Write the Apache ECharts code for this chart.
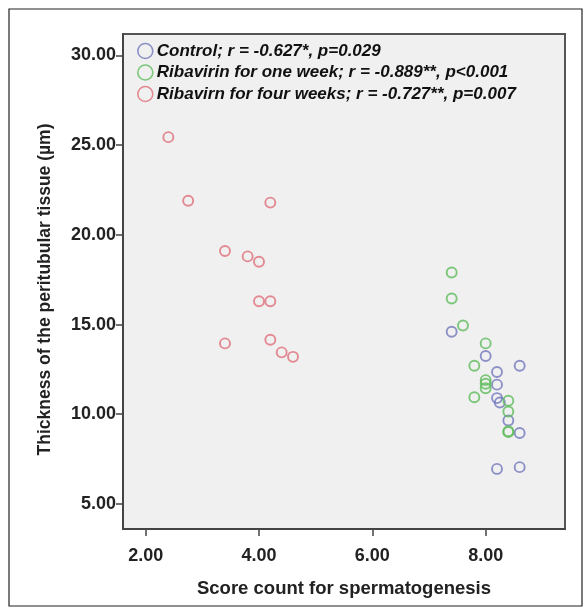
<!DOCTYPE html>
<html>
<head>
<meta charset="utf-8">
<script src="https://cdn.jsdelivr.net/npm/echarts@6/dist/echarts.min.js"></script>
<style>
  html, body { margin: 0; padding: 0; background: #fff; }
  #main { width: 584px; height: 616px; }
</style>
</head>
<body>
<div id="main"></div>
<script>
// group names as shown in the legend
var groupNames = [
  'Control; r = -0.627*, p=0.029',
  'Ribavirin for one week; r = -0.889**, p<0.001',
  'Ribavirn for four weeks; r = -0.727**, p=0.007'
];
var groupColors = ['#7378bd', '#5fbb5d', '#df6f7a'];

// [score, thickness]
var controlData = [
  [7.4, 14.6], [8.0, 13.25], [8.6, 12.7], [8.2, 12.35], [8.2, 11.65],
  [8.2, 10.9], [8.25, 10.65], [8.4, 9.65], [8.6, 8.95], [8.2, 6.95], [8.6, 7.05]
];
var oneWeekData = [
  [7.4, 17.9], [7.4, 16.45], [7.6, 14.95], [8.0, 13.95], [7.8, 12.7],
  [8.0, 11.9], [8.0, 11.7], [8.0, 11.45], [7.8, 10.95], [8.4, 10.75],
  [8.4, 10.15], [8.4, 9.05], [8.4, 9.0]
];
var fourWeekData = [
  [2.4, 25.45], [2.75, 21.9], [4.2, 21.8], [3.4, 19.1], [3.8, 18.8],
  [4.0, 18.5], [4.0, 16.3], [4.2, 16.3], [3.4, 13.95], [4.2, 14.15],
  [4.4, 13.45], [4.6, 13.2]
];

var xTicks = [2, 4, 6, 8];
var yTicks = [5, 10, 15, 20, 25, 30];

var chart = echarts.init(document.getElementById('main'));

function makeSeries(i, data) {
  return {
    name: groupNames[i],
    type: 'scatter',
    data: data,
    symbol: 'circle',
    symbolSize: 10,
    itemStyle: {
      color: 'rgba(0,0,0,0)',
      borderColor: groupColors[i],
      borderWidth: 1.9
    },
    emphasis: { disabled: true }
  };
}

var option = {
  animation: false,
  backgroundColor: '#fff',
  textStyle: { fontFamily: 'Liberation Sans, Arial, sans-serif' },
  grid: {
    left: 123, top: 34, right: 19, bottom: 87,
    show: true,
    backgroundColor: '#f0f0f0',
    borderColor: '#555',
    borderWidth: 2
  },
  legend: {
    orient: 'vertical',
    left: 132,
    top: 37.5,
    itemGap: 4.5,
    itemWidth: 15,
    itemHeight: 15,
    icon: 'circle',
    selectedMode: false,
    textStyle: {
      fontSize: 17,
      fontWeight: 'bold',
      fontStyle: 'italic',
      color: '#111',
      lineHeight: 17,
      padding: [0, 0, 0, -1]
    },
    data: groupNames.map(function (n, i) {
      return {
        name: n,
        itemStyle: { color: 'rgba(0,0,0,0)', borderColor: groupColors[i], borderWidth: 1.6 }
      };
    })
  },
  xAxis: {
    type: 'value',
    min: 1.6,
    max: 9.4,
    name: 'Score count for spermatogenesis',
    nameLocation: 'middle',
    nameGap: 50,
    nameTextStyle: { fontSize: 18.5, fontWeight: 'bold', color: '#222', verticalAlign: 'top' },
    axisLine: { show: true, lineStyle: { color: '#444', width: 2 } },
    axisTick: { show: true, length: 7, customValues: xTicks, lineStyle: { color: '#444', width: 1.5 } },
    axisLabel: {
      customValues: xTicks,
      margin: 18,
      fontSize: 18,
      fontWeight: 'bold',
      color: '#222',
      formatter: function (v) { return v.toFixed(2); }
    },
    splitLine: { show: false }
  },
  yAxis: {
    type: 'value',
    min: 3.6,
    max: 31.2,
    name: 'Thickness of the peritubular tissue (\u00b5m)',
    nameLocation: 'middle',
    nameGap: 69,
    nameTextStyle: { fontSize: 17.5, fontWeight: 'bold', color: '#222', padding: [0, 16, 0, 0] },
    axisLine: { show: true, lineStyle: { color: '#444', width: 2 } },
    axisTick: { show: true, length: 7, customValues: yTicks, lineStyle: { color: '#444', width: 1.5 } },
    axisLabel: {
      customValues: yTicks,
      margin: 7,
      fontSize: 18,
      fontWeight: 'bold',
      color: '#222',
      formatter: function (v) { return v.toFixed(2); }
    },
    splitLine: { show: false }
  },
  graphic: [{
    type: 'rect',
    shape: { x: 9, y: 9, width: 573, height: 597 },
    style: { fill: 'none', stroke: '#222', lineWidth: 1.2 },
    silent: true,
    z: -1
  }],
  series: [
    makeSeries(0, controlData),
    makeSeries(1, oneWeekData),
    makeSeries(2, fourWeekData)
  ]
};

chart.setOption(option);
</script>
</body>
</html>
